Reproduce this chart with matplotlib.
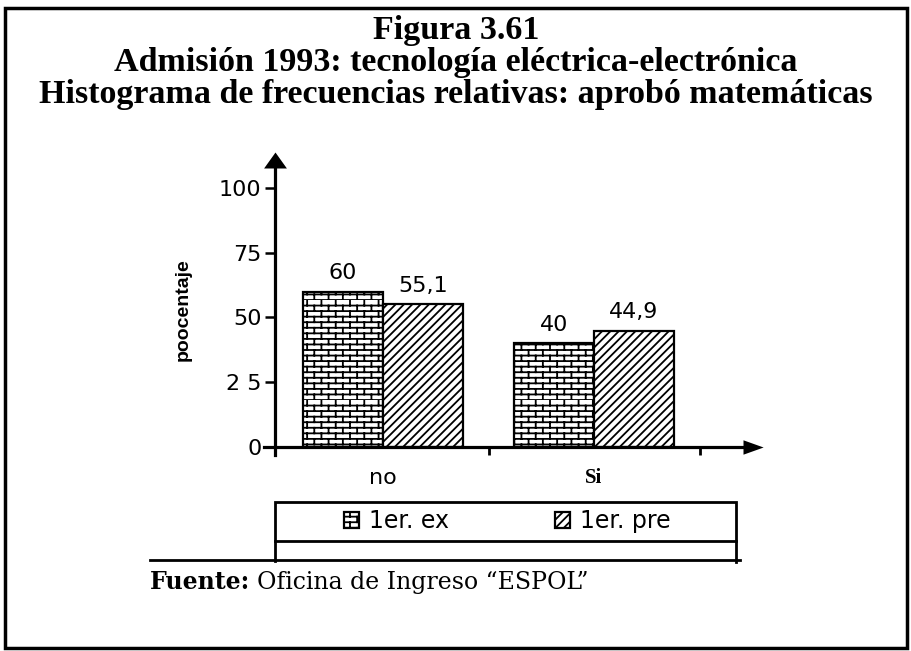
import warnings
warnings.filterwarnings("ignore")
import numpy as np
import matplotlib
matplotlib.use("Agg")
import matplotlib.pyplot as plt
from matplotlib import hatch as mhatch
from matplotlib.path import Path
from matplotlib.lines import Line2D
from matplotlib.patches import Rectangle

# ---------------- data ----------------
categories = ["no", "Si"]
series_names = ["1er. ex", "1er. pre"]
ex_values = [60, 40]
pre_values = [55.1, 44.9]
ytick_values = [0, 25, 50, 75, 100]
ytick_labels = ["0", "2 5", "50", "75", "100"]
title_lines = ["Figura 3.61",
               "Admisión 1993: tecnología eléctrica-electrónica",
               "Histograma de frecuencias relativas: aprobó matemáticas"]
ylabel_text = "poocentaje"
source_bold = "Fuente:"
source_text = "Oficina de Ingreso \u201cESPOL\u201d"


# ------------- brick hatch -------------
class BrickHatch(mhatch.HatchPatternBase):
    def __init__(self, hatch, density):
        n = hatch.count('b')
        self.rows = 18 * n
        self.cols = 7
        self.num_vertices = (self.rows * 2 + self.rows * self.cols * 2) if n else 0

    def set_vertices_and_codes(self, vertices, codes):
        rows, cols = self.rows, self.cols
        k = 0
        for i in range(rows):
            y = i / rows
            vertices[k] = (0.0, y)
            vertices[k + 1] = (1.0, y)
            codes[k] = Path.MOVETO
            codes[k + 1] = Path.LINETO
            k += 2
            off = 0.5 / cols if i % 2 else 0.0
            for j in range(cols):
                xx = j / cols + off
                vertices[k] = (xx, y)
                vertices[k + 1] = (xx, y + 1.0 / rows)
                codes[k] = Path.MOVETO
                codes[k + 1] = Path.LINETO
                k += 2


mhatch._hatch_types.append(BrickHatch)
plt.rcParams['hatch.linewidth'] = 1.3

W, H = 912, 651
fig = plt.figure(figsize=(W / 100, H / 100), dpi=100)


def fx(px):
    return px / W


def fy(py):
    return 1 - py / H


ax_l, ax_r, ax_t, ax_b = 264, 743, 168, 455
ax = fig.add_axes([fx(ax_l), fy(ax_b), fx(ax_r) - fx(ax_l), fy(ax_t) - fy(ax_b)])

x = np.arange(len(categories))
w = 0.38
b1 = ax.bar(x - w / 2, ex_values, w, color='white', edgecolor='black',
            hatch='b', linewidth=1.6, label=series_names[0])
b2 = ax.bar(x + w / 2, pre_values, w, color='white', edgecolor='black',
            hatch='////', linewidth=1.6, label=series_names[1])

fmt = lambda v: f"{v:g}".replace('.', ',')
for bars in (b1, b2):
    ax.bar_label(bars, fmt=fmt, padding=6, fontsize=16, family='DejaVu Sans')

ax.set_xlim(-0.564, 1.706)
ax.set_ylim(-3.09, 107.7)

for s in ('top', 'right'):
    ax.spines[s].set_visible(False)
ax.spines['left'].set_position(('data', -0.51))
ax.spines['bottom'].set_position(('data', 0))
ax.spines['left'].set_linewidth(2.3)
ax.spines['bottom'].set_linewidth(2.3)

ax.set_yticks(ytick_values)
ax.set_yticklabels(ytick_labels)
ax.tick_params(axis='y', direction='out', length=7, width=1.8, labelsize=16, pad=3)

ax.set_xticks([0.5, 1.5])
ax.set_xticklabels([])
ax.tick_params(axis='x', which='major', direction='out', length=6, width=2)
ax.set_xticks(x, minor=True)
ax.set_xticklabels(categories, minor=True)
ax.tick_params(axis='x', which='minor', length=0, pad=15)
mlabels = ax.get_xticklabels(minor=True)
mlabels[0].set_fontsize(16)
mlabels[0].set_family('DejaVu Sans')
mlabels[1].set_fontsize(15)
mlabels[1].set_family('Liberation Serif')
mlabels[1].set_fontweight('bold')

for lab in ax.get_yticklabels():
    lab.set_family('DejaVu Sans')

ax.set_ylabel(ylabel_text, fontsize=14, fontweight='bold', family='Liberation Sans')
ax.yaxis.set_label_coords((192 - ax_l) / (ax_r - ax_l), (ax_b - 310) / (ax_b - ax_t))

# axis arrow heads
ax.plot([-0.51], [1.0], transform=ax.get_xaxis_transform(), clip_on=False,
        marker=[(-1, 0), (1, 0), (0, 1.4)], ms=23, color='black', mew=0)
ax.plot([1.0], [0], transform=ax.get_yaxis_transform(), clip_on=False,
        marker=[(0, -0.5), (0, 0.5), (1.4, 0)], ms=29, color='black', mew=0)

# legend
leg = fig.legend(handles=[b1, b2], labels=series_names, ncol=2, loc='center',
                 bbox_to_anchor=(fx(507), fy(521)), bbox_transform=fig.transFigure,
                 frameon=False, prop={'family': 'DejaVu Sans', 'size': 17},
                 handlelength=0.65, handleheight=0.65, handletextpad=0.4,
                 columnspacing=4.5)

# legend box lines and rules
lk = dict(color='black', lw=2.0, transform=fig.transFigure)
fig.add_artist(Rectangle((fx(275), fy(541)), fx(736) - fx(275), fy(502) - fy(541),
                         fill=False, ec='black', lw=2.0, transform=fig.transFigure))
fig.add_artist(Line2D([fx(275), fx(275)], [fy(541), fy(561)], **lk))
fig.add_artist(Line2D([fx(736), fx(736)], [fy(541), fy(562)], **lk))
fig.add_artist(Line2D([fx(150), fx(740)], [fy(560), fy(560)], **lk))

# outer frame
fig.add_artist(Rectangle((fx(5), fy(648)), fx(907) - fx(5), fy(8) - fy(648),
                         fill=False, ec='black', lw=2.5, transform=fig.transFigure))

# title
for i, (t, yy) in enumerate(zip(title_lines, [31, 63, 95])):
    fig.text(0.5, fy(yy), t, ha='center', va='center', fontsize=24.5,
             family='Liberation Serif', fontweight='bold')

# source
src = fig.text(fx(150), fy(589), source_bold, ha='left', va='baseline',
               fontsize=17, family='DejaVu Serif', fontweight='bold')
ax.annotate(source_text, xy=(1, 0), xycoords=src, xytext=(5, 0),
            textcoords='offset points', ha='left', va='bottom',
            fontsize=17, family='DejaVu Serif', annotation_clip=False)

fig.savefig("out.png", dpi=100)
